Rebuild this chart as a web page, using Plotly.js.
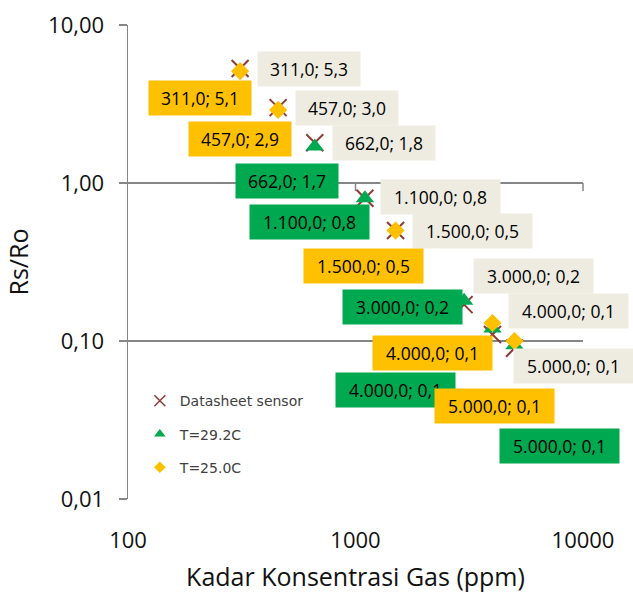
<!DOCTYPE html>
<html>
<head>
<meta charset="utf-8">
<script src="https://cdn.plot.ly/plotly-3.0.1.min.js"></script>
<style>
html,body{margin:0;padding:0;background:#fff;}
#chart{width:633px;height:599px;}
</style>
</head>
<body>
<div id="chart"></div>
<script>
// ---- data ----
const seriesNames = ["Datasheet sensor", "T=29.2C", "T=25.0C"];
const datasheetX = [311, 457, 662, 1100, 1500, 3000, 4000, 5000];
const datasheetY = [5.3, 3.0, 1.8, 0.8, 0.5, 0.17, 0.11, 0.09];
const t292X = [662, 1100, 3000, 4000, 5000];
const t292Y = [1.7, 0.8, 0.18, 0.12, 0.094];
const t250X = [311, 457, 1500, 4000, 5000];
const t250Y = [5.1, 2.9, 0.5, 0.13, 0.10];
const yTickVals = [0.01, 0.1, 1, 10];
const yTickText = ["0,01", "0,10", "1,00", "10,00"];
const xTickVals = [100, 1000, 10000];
const xTickText = ["100", "1000", "10000"];

// ---- label placement (pixel offsets of the label centre from its point: right, down) ----
const datasheetOff = [[69,0],[69,0],[69,0],[76,-1],[77,0],[69,-29],[76,-23],[59,18]];
const t292Off = [[-28,34],[-55,24],[-62,6],[-97,62],[45,101]];
const t250Off = [[-40,27],[-38,29],[-32,35],[-60,30],[-20,65]];

const FONT = "Open Sans, Noto Sans, sans-serif";
const colDS = "#8E3B36", colG = "#00A84F", colY = "#FFC000";

function fmtX(v){
  const s = Math.round(v).toString().replace(/\B(?=(\d{3})+(?!\d))/g, ".");
  return s + ",0";
}
function fmtY(v){ return v.toFixed(1).replace(".", ","); }

function labels(xs, ys, offs, bg){
  return xs.map((x, i) => {
    const t = fmtX(x) + "; " + fmtY(ys[i]);
    return {
      x: Math.log10(x), y: Math.log10(ys[i]), xref: "x", yref: "y",
      text: t, showarrow: false,
      xshift: offs[i][0], yshift: -offs[i][1],
      bgcolor: bg, borderpad: 5,
      width: 92 + (t.length - 10) * 8.5,
      font: {family: FONT, size: 17.5, color: "#000"}
    };
  });
}

const markerDS = {symbol: "x-thin-open", color: colDS, line: {color: colDS, width: 2}};
const markerG = {symbol: "triangle-up", color: colG};
const markerY = {symbol: "diamond", color: colY};

const traces = [
  {x: datasheetX, y: datasheetY, name: seriesNames[0], type: "scatter", mode: "markers",
   showlegend: false, marker: Object.assign({size: 17}, markerDS)},
  {x: t292X, y: t292Y, name: seriesNames[1], type: "scatter", mode: "markers",
   showlegend: false, marker: Object.assign({size: 16}, markerG)},
  {x: t250X, y: t250Y, name: seriesNames[2], type: "scatter", mode: "markers",
   showlegend: false, marker: Object.assign({size: 14}, markerY)},
  // legend entries (smaller symbols, as in the reference legend)
  {x: [null], y: [null], name: seriesNames[0], type: "scatter", mode: "markers", legendgroup: "a",
   marker: {symbol: "x-thin-open", size: 11, color: colDS, line: {color: colDS, width: 1.5}}},
  {x: [null], y: [null], name: seriesNames[1], type: "scatter", mode: "markers", legendgroup: "b",
   marker: Object.assign({size: 10}, markerG)},
  {x: [null], y: [null], name: seriesNames[2], type: "scatter", mode: "markers", legendgroup: "c",
   marker: Object.assign({size: 9}, markerY)}
];

const annotations = []
  .concat(labels(datasheetX, datasheetY, datasheetOff, "#EEECE1"))
  .concat(labels(t292X, t292Y, t292Off, colG))
  .concat(labels(t250X, t250Y, t250Off, colY));

const gridCol = "#868686";
const shapes = [0.5, 1.0].map(px => ({
  type: "line", xref: "paper", yref: "paper",
  x0: px, x1: px, ysizemode: "pixel", yanchor: 2/3, y0: 0, y1: -8,
  line: {color: gridCol, width: 1.5}
}));

const layout = {
  width: 633, height: 599,
  margin: {l: 128, r: 50, t: 25, b: 100},
  paper_bgcolor: "#fff", plot_bgcolor: "#fff",
  font: {family: FONT, color: "#000"},
  showlegend: true,
  legend: {
    x: 0.026, y: 0.24, xanchor: "left", yanchor: "top",
    bgcolor: "rgba(255,255,255,0.9)",
    font: {family: "DejaVu Sans, sans-serif", size: 14, color: "#404040"},
    traceorder: "grouped", tracegroupgap: 12, itemwidth: 30
  },
  xaxis: {
    type: "log", range: [2, 4],
    tickvals: xTickVals, ticktext: xTickText,
    ticks: "", showgrid: false, zeroline: false, showline: false,
    ticklabelstandoff: 26,
    tickfont: {family: FONT, size: 22, color: "#111"},
    title: {text: "Kadar Konsentrasi Gas (ppm)", font: {family: FONT, size: 25, color: "#111"}, standoff: 15}
  },
  yaxis: {
    type: "log", range: [-2, 1],
    tickvals: yTickVals, ticktext: yTickText,
    ticks: "outside", ticklen: 8, tickcolor: gridCol, tickwidth: 1.5,
    showgrid: true, gridcolor: gridCol, gridwidth: 1.5,
    showline: true, linecolor: gridCol, linewidth: 1.5,
    zeroline: false,
    ticklabelstandoff: 10,
    tickfont: {family: FONT, size: 22, color: "#111"},
    title: {text: "Rs/Ro", font: {family: FONT, size: 25, color: "#111"}, standoff: 12}
  },
  annotations: annotations,
  shapes: shapes
};

Plotly.newPlot("chart", traces, layout, {displayModeBar: false, staticPlot: true});
</script>
</body>
</html>
